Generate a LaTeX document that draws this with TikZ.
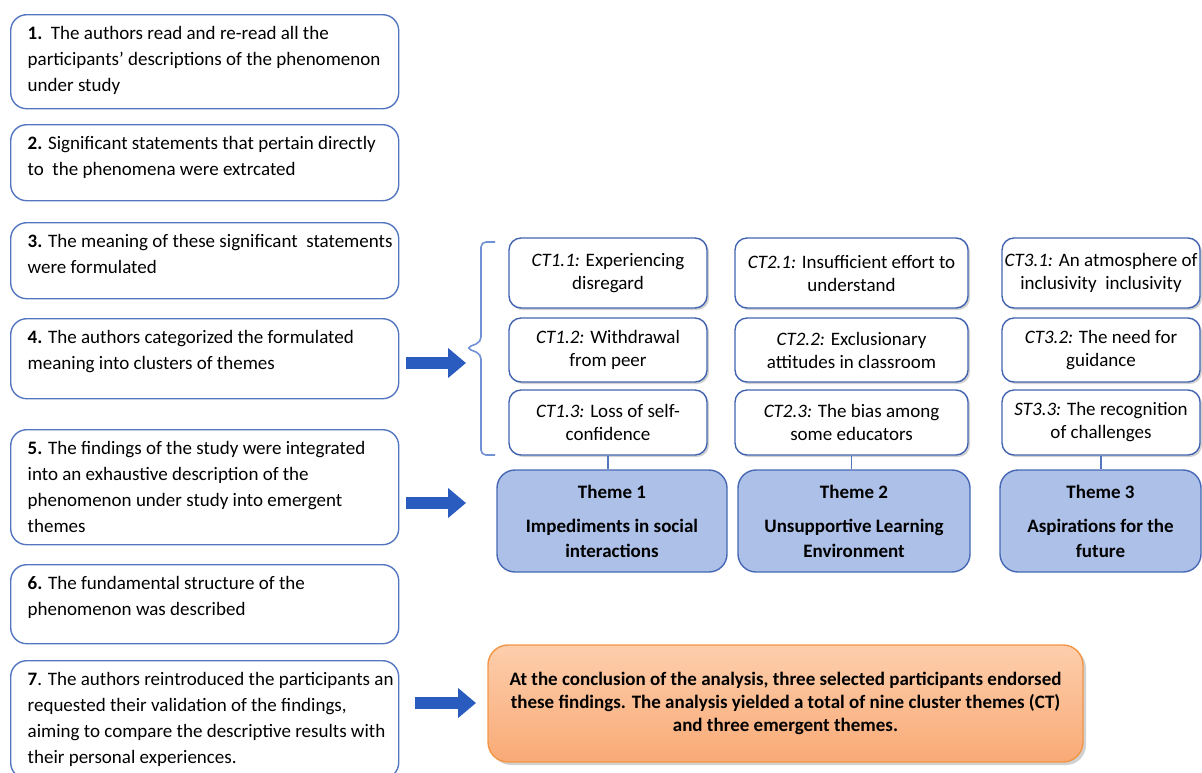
\documentclass[tikz,border=0pt]{standalone}
\usepackage{fontspec}
\setmainfont{Carlito}
\usepackage{tikz}
\usetikzlibrary{positioning,arrows.meta,shadows}
\definecolor{stepblue}{RGB}{84,118,192}
\definecolor{ctblue}{RGB}{66,100,176}
\definecolor{themefill}{RGB}{172,192,232}
\definecolor{themeblue}{RGB}{70,104,180}
\definecolor{arrowblue}{RGB}{42,92,192}
\definecolor{bracketblue}{RGB}{112,146,212}
\definecolor{resulttop}{RGB}{253,206,172}
\definecolor{resultbottom}{RGB}{249,170,118}
\definecolor{resultorange}{RGB}{242,150,70}
\newcommand{\steptext}[2]{\parbox[c][#1][t]{177pt}{\begin{tabular}[t]{@{}l@{}}#2\end{tabular}}}

\begin{document}
\begin{tikzpicture}[x=0.5pt, y=-0.5pt,
  stepbox/.style={draw=stepblue, line width=0.7pt, rounded corners=8pt, anchor=north west,
    inner xsep=8.5pt, inner ysep=3.4pt, font=\fontsize{9.5}{13}\selectfont},
  ctbox/.style={draw=ctblue, line width=0.7pt, fill=white, rounded corners=6pt, align=center,
    inner xsep=0pt, inner ysep=2pt, font=\fontsize{9.5}{11.5}\selectfont,
    drop shadow={shadow xshift=1pt, shadow yshift=-1pt, fill=black!45, opacity=0.4}},
  themebox/.style={draw=themeblue, line width=0.7pt, fill=themefill, rounded corners=9pt, align=center,
    minimum height=51pt, inner xsep=0pt, font=\fontsize{9.5}{12.5}\selectfont\bfseries},
  resultbox/.style={draw=resultorange, line width=0.7pt, top color=resulttop, bottom color=resultbottom,
    rounded corners=10pt, align=center, minimum width=297.5pt, minimum height=58.5pt,
    font=\fontsize{9.5}{11.5}\selectfont\bfseries,
    drop shadow={shadow xshift=1.5pt, shadow yshift=-1.5pt, fill=black!45, opacity=0.4}},
  link/.style={draw=stepblue, line width=0.6pt},
  bigarrow/.style={arrowblue, line width=6pt, -{Triangle[length=9pt, width=14.5pt]}}]

  \useasboundingbox (0,0) rectangle (1202,772);

  % Steps of the analysis
  \node[stepbox] (s1) at (10,14) {\steptext{40.2pt}{\textbf{1.}\ \ The authors read and re-read all the\\participants’ descriptions of the phenomenon\\under study}};
  \node[stepbox] (s2) at (10,124) {\steptext{31.2pt}{\textbf{2.} Significant statements that pertain directly\\to\ \ the phenomena were extrcated}};
  \node[stepbox] (s3) at (10,222) {\steptext{31.2pt}{\textbf{3.} The meaning of these significant\ \ statements\\were formulated}};
  \node[stepbox] (s4) at (10,318) {\steptext{33.2pt}{\textbf{4.} The authors categorized the formulated\\meaning into clusters of themes}};
  \node[stepbox] (s5) at (10,429) {\steptext{50.7pt}{\textbf{5.} The findings of the study were integrated\\into an exhaustive description of the\\phenomenon under study into emergent\\themes}};
  \node[stepbox] (s6) at (10,564) {\steptext{32.7pt}{\textbf{6.} The fundamental structure of the\\phenomenon was described}};
  \node[stepbox] (s7) at (10,660) {\steptext{52.2pt}{\textbf{7}. The authors reintroduced the participants an\\requested their validation of the findings,\\aiming to compare the descriptive results with\\their personal experiences.}};

  % Cluster themes
  \node[ctbox, minimum width=99pt, minimum height=35pt] (ct11) at (608,273) {\textit{CT1.1:} Experiencing\\disregard};
  \node[ctbox, minimum width=99pt, minimum height=32pt] (ct12) at (608,350) {\textit{CT1.2:} Withdrawal\\from peer};
  \node[ctbox, minimum width=99pt, minimum height=32.5pt] (ct13) at (608,422.5) {\textit{CT1.3:} Loss of self-\\confidence};
  \node[ctbox, minimum width=116.5pt, minimum height=35pt] (ct21) at (851.5,273) {\textit{CT2.1:} Insufficient effort to\\understand};
  \node[ctbox, minimum width=116.5pt, minimum height=32pt] (ct22) at (851.5,350) {\textit{CT2.2:} Exclusionary\\attitudes in classroom};
  \node[ctbox, minimum width=116.5pt, minimum height=32.5pt] (ct23) at (851.5,422.5) {\textit{CT2.3:} The bias among\\some educators};
  \node[ctbox, minimum width=99pt, minimum height=35pt] (ct31) at (1101,273) {\textit{CT3.1:} An atmosphere of\\inclusivity\ \ inclusivity};
  \node[ctbox, minimum width=99pt, minimum height=32pt] (ct32) at (1101,350) {\textit{CT3.2:} The need for\\guidance};
  \node[ctbox, minimum width=99pt, minimum height=32.5pt] (ct33) at (1101,422.5) {\textit{ST3.3:} The recognition\\of challenges};

  % Emergent themes
  \node[themebox, minimum width=115pt] (th1) at (612,521) {Theme 1\\[4.5pt]Impediments in social\\interactions};
  \node[themebox, minimum width=116pt] (th2) at (854,521) {Theme 2\\[4.5pt]Unsupportive Learning\\Environment};
  \node[themebox, minimum width=100.5pt] (th3) at (1100.5,521) {Theme 3\\[4.5pt]Aspirations for the\\future};

  \draw[link] (ct13.south) -- (ct13.south |- th1.north);
  \draw[link] (ct23.south) -- (ct23.south |- th2.north);
  \draw[link] (ct33.south) -- (ct33.south |- th3.north);

  % Bracket round the clusters
  \draw[bracketblue, line width=0.8pt, rounded corners=2.5pt]
    (495,242) -- (481,242) -- (481,342) -- (466,348) -- (481,354) -- (481,455) -- (495,455);

  % Outcome
  \node[resultbox] (res) at (785.5,703.5) {At the conclusion of the analysis, three selected participants endorsed\\these findings. The analysis yielded a total of nine cluster themes (CT)\\and three emergent themes.};

  % Block arrows
  \coordinate (a4s) at (406,363); \coordinate (a4e) at (466,363);
  \coordinate (a5s) at (406,503); \coordinate (a5e) at (466,503);
  \coordinate (a7s) at (415,703); \coordinate (a7e) at (476,703);
  \draw[bigarrow] (a4s) -- (a4e);
  \draw[bigarrow] (a5s) -- (a5e);
  \draw[bigarrow] (a7s) -- (a7e);
\end{tikzpicture}
\end{document}
